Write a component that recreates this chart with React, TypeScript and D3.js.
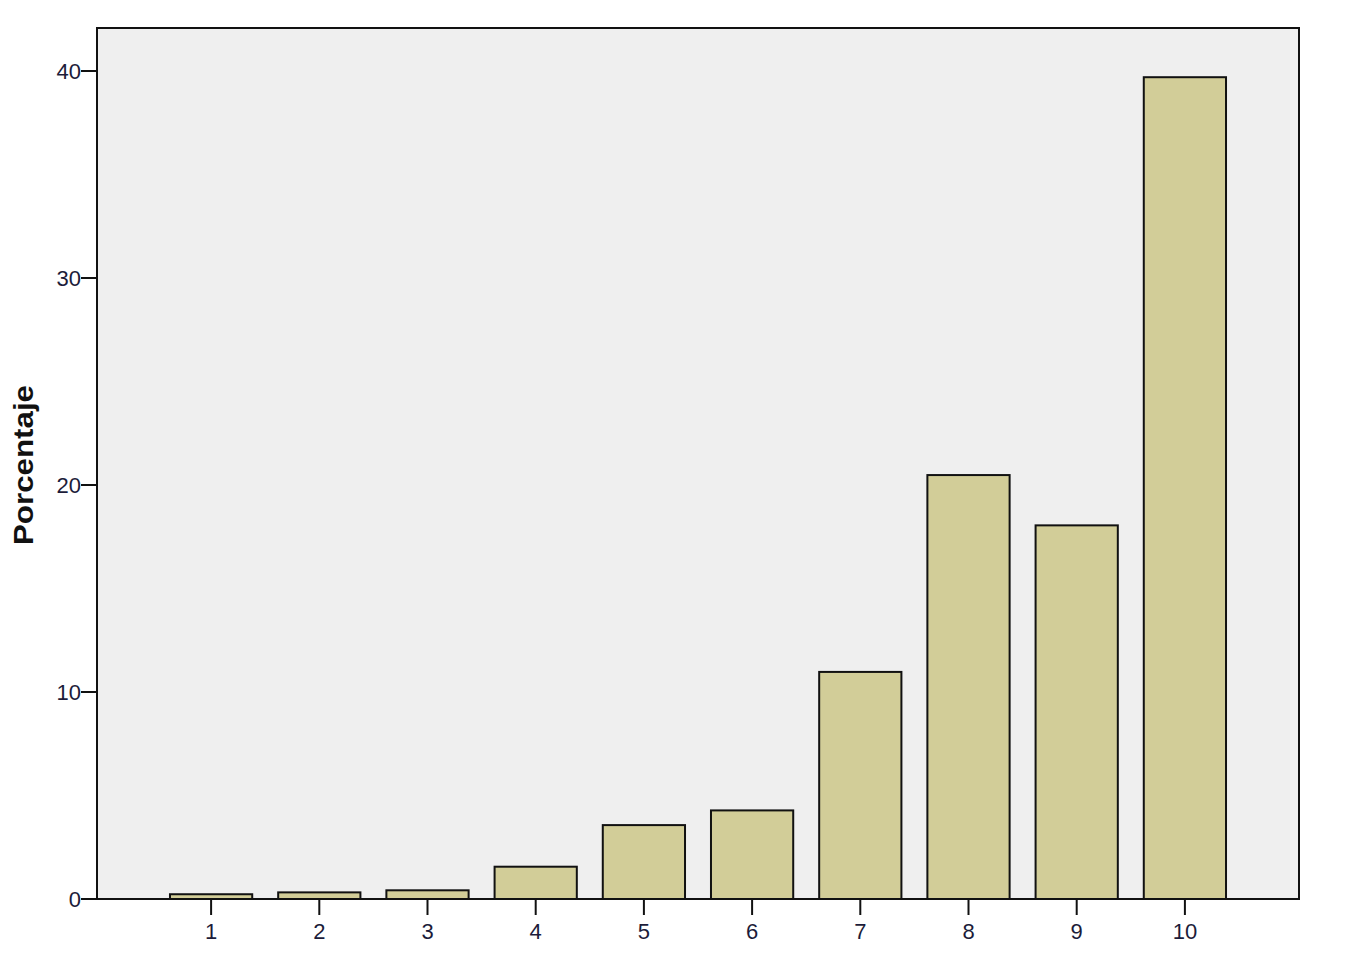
import { scaleBand, scaleLinear } from "d3";

// Porcentaje por puntuación (1–10)
const categories = ["1", "2", "3", "4", "5", "6", "7", "8", "9", "10"];
const percentages = [0.23, 0.32, 0.42, 1.56, 3.57, 4.28, 10.97, 20.48, 18.05, 39.7];
const yTicks = [0, 10, 20, 30, 40];

export default function App() {
    const width = 1346;
    const height = 960;
    const plot = { left: 97, right: 1299, top: 28, bottom: 899 };

    const x = scaleBand<string>()
        .domain(categories)
        .range([157, 1239])
        .paddingInner(0.24)
        .paddingOuter(0.12);
    const y = scaleLinear().domain([0, 40]).range([plot.bottom, 71]);

    const tickColor = "#1c1c3a";

    return (
        <svg
            width={width}
            height={height}
            style={{ position: "absolute", left: 0, top: 0, background: "#fff" }}
            fontFamily="Arial, 'Liberation Sans', sans-serif"
        >
            {/* plot background */}
            <rect
                x={plot.left}
                y={plot.top}
                width={plot.right - plot.left}
                height={plot.bottom - plot.top}
                fill="#efefef"
                stroke="none"
            />

            {/* bars */}
            {categories.map((c, i) => (
                <rect
                    key={c}
                    x={x(c)}
                    y={y(percentages[i])}
                    width={x.bandwidth()}
                    height={plot.bottom - y(percentages[i])}
                    fill="#d2cd98"
                    stroke="#111"
                    strokeWidth={2}
                />
            ))}

            {/* frame */}
            <rect
                x={plot.left}
                y={plot.top}
                width={plot.right - plot.left}
                height={plot.bottom - plot.top}
                fill="none"
                stroke="#111"
                strokeWidth={2}
            />

            {/* y ticks */}
            {yTicks.map((t) => (
                <g key={t}>
                    <line x1={81} x2={plot.left} y1={y(t)} y2={y(t)} stroke="#111" strokeWidth={2} />
                    <text
                        x={81}
                        y={y(t) + 8}
                        textAnchor="end"
                        fontSize={22}
                        fill={tickColor}
                    >
                        {t}
                    </text>
                </g>
            ))}

            {/* x ticks */}
            {categories.map((c) => {
                const cx = (x(c) ?? 0) + x.bandwidth() / 2;
                return (
                    <g key={`xt-${c}`}>
                        <line x1={cx} x2={cx} y1={plot.bottom} y2={915} stroke="#111" strokeWidth={2} />
                        <text x={cx} y={939} textAnchor="middle" fontSize={22} fill={tickColor}>
                            {c}
                        </text>
                    </g>
                );
            })}

            {/* axis title */}
            <text
                x={33}
                y={465}
                textAnchor="middle"
                fontSize={27}
                fontWeight="bold"
                fill="#111"
                textLength={160}
                lengthAdjust="spacingAndGlyphs"
                transform="rotate(-90, 33, 465)"
            >
                Porcentaje
            </text>
        </svg>
    );
}
